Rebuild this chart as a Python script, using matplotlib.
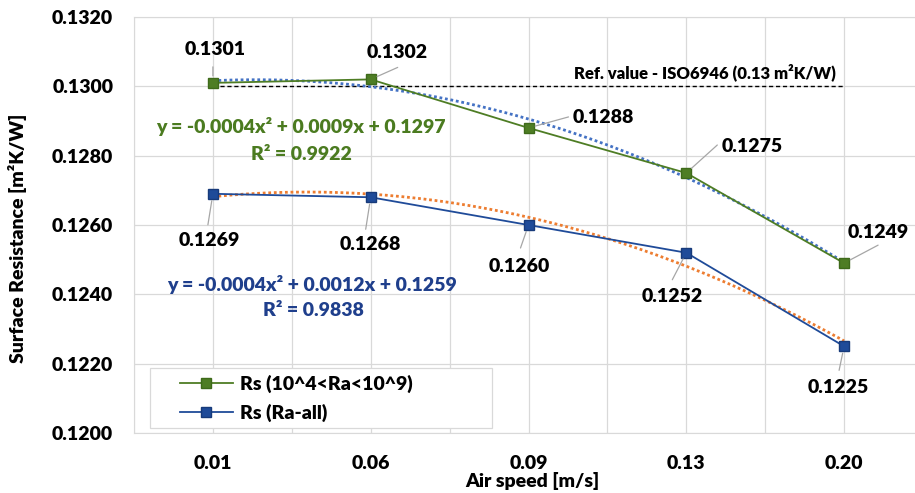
import numpy as np
import matplotlib
matplotlib.use("Agg")
import matplotlib.pyplot as plt
from matplotlib.patches import Rectangle
from matplotlib.lines import Line2D

plt.rcParams["font.family"] = ["Lato", "DejaVu Sans"]
plt.rcParams["font.weight"] = 800
plt.rcParams["axes.labelweight"] = 800

speeds = ["0.01", "0.06", "0.09", "0.13", "0.20"]
rs_ra_range = [0.1301, 0.1302, 0.1288, 0.1275, 0.1249]
rs_ra_all = [0.1269, 0.1268, 0.1260, 0.1252, 0.1225]
ref_value = 0.13

GREEN = "#4e7d24"
BLUE = "#1f4b99"
GRID = "#d9d9d9"
FW = 800

W, H = 915, 493
fig = plt.figure(figsize=(W / 100, H / 100), dpi=100)
L, R, T, B = 134, 923, 17, 433
ax = fig.add_axes([L / W, 1 - B / H, (R - L) / W, (B - T) / H])

x = np.arange(1, len(speeds) + 1)
ax.set_xlim(0.5, 5.5)
ax.set_ylim(0.12, 0.132)
ax.set_yticks(np.arange(0.12, 0.13201, 0.002))
ax.yaxis.set_major_formatter(matplotlib.ticker.FormatStrFormatter("%.4f"))
ax.set_xticks(x)
ax.set_xticklabels(speeds)
ax.set_xticks(np.arange(0.5, 5.51, 0.5), minor=True)
ax.tick_params(axis="both", which="both", length=0, labelsize=14)
ax.tick_params(axis="y", pad=15)
ax.tick_params(axis="x", pad=16)
for lab in ax.get_xticklabels() + ax.get_yticklabels():
    lab.set_fontweight(FW)
ax.grid(True, which="major", color=GRID, lw=0.9)
ax.grid(True, which="minor", axis="x", color=GRID, lw=0.9)
for s in ax.spines.values():
    s.set_color(GRID)
ax.set_axisbelow(True)

# trendlines (2nd order polynomial over category index)
xf = np.linspace(1, 5, 200)
pg = np.polyfit(x, rs_ra_range, 2)
pb = np.polyfit(x, rs_ra_all, 2)
ax.plot(xf, np.polyval(pg, xf), color="#4472c4", lw=2, ls=(0, (1, 1)), zorder=3)
ax.plot(xf, np.polyval(pb, xf), color="#ed7d31", lw=2, ls=(0, (1, 1)), zorder=3)

# reference line
ax.plot([1, 5], [ref_value, ref_value], color="black", lw=1, ls=(0, (3, 2)), zorder=2)
ax.annotate("Ref. value - ISO6946 (0.13 m²K/W)", xy=(5, ref_value), xytext=(-8, 14),
            textcoords="offset pixels", ha="right", va="center", fontsize=12, fontweight=FW)

ax.plot(x, rs_ra_range, color=GREEN, lw=1.3, marker="s", ms=7, mfc=GREEN,
        mec="#3e6a1a", zorder=4)
ax.plot(x, rs_ra_all, color=BLUE, lw=1.3, marker="s", ms=7, mfc=BLUE,
        mec="#173a7a", zorder=4)

# data labels: (text offset, leader start offset) in pixels
green_off = [((2, 33), (0, 16)), ((26, 27), (27, 12)), ((75, 10), (40, 11)),
             ((66, 26), (31, 28)), ((34, 31), (34, 18))]
blue_off = [((-4, -47), (-5, -31)), ((0, -47), (-5, -32)), ((-9, -41), (-8, -23)),
            ((-14, -44), (-14, -27)), ((-6, -41), (-5, -24))]
for vals, offs in ((rs_ra_range, green_off), (rs_ra_all, blue_off)):
    for xi, v, (toff, loff) in zip(x, vals, offs):
        ax.annotate(f"{v:.4f}", xy=(xi, v), xytext=toff, textcoords="offset pixels",
                    ha="center", va="center", fontsize=14, fontweight=FW, zorder=6)
        ax.annotate("", xy=(xi, v), xytext=loff, textcoords="offset pixels",
                    arrowprops=dict(arrowstyle="-", color="#a6a6a6", lw=0.9,
                                    shrinkA=0, shrinkB=5), zorder=5)

# trendline equations
fig.text(301 / W, 1 - 127 / H, "y = -0.0004x² + 0.0009x + 0.1297", color="#4b7b20",
         ha="center", va="center", fontsize=14, fontweight=FW)
fig.text(301 / W, 1 - 154 / H, "R² = 0.9922", color="#4b7b20",
         ha="center", va="center", fontsize=14, fontweight=FW)
fig.text(312 / W, 1 - 285 / H, "y = -0.0004x² + 0.0012x + 0.1259", color="#1f3f8c",
         ha="center", va="center", fontsize=14, fontweight=FW)
fig.text(313 / W, 1 - 311 / H, "R² = 0.9838", color="#1f3f8c",
         ha="center", va="center", fontsize=14, fontweight=FW)

# legend box
ax.add_patch(Rectangle(((150 - L) / (R - L), (B - 428) / (B - T)),
                       (492 - 150) / (R - L), 60 / (B - T), transform=ax.transAxes,
                       facecolor="white", edgecolor=GRID, lw=0.9, zorder=5))
handles = [Line2D([], [], color=GREEN, lw=1.3, marker="s", ms=7, mfc=GREEN, mec="#3e6a1a"),
           Line2D([], [], color=BLUE, lw=1.3, marker="s", ms=7, mfc=BLUE, mec="#173a7a")]
leg = ax.legend(handles, ["Rs (10^4<Ra<10^9)", "Rs (Ra-all)"], loc="center left",
                bbox_to_anchor=((180 - L) / (R - L), (B - 398) / (B - T)),
                frameon=False, prop={"size": 14, "weight": FW}, handlelength=2.7,
                handletextpad=0.4, labelspacing=0.55, borderaxespad=0, borderpad=0)
leg.set_zorder(6)

fig.text(18 / W, 1 - 238 / H, "Surface Resistance [m²K/W]", rotation=90,
         ha="center", va="center", fontsize=14, fontweight=FW)
fig.text(532 / W, 1 - 481 / H, "Air speed [m/s]", ha="center", va="center",
         fontsize=14, fontweight=FW)

fig.savefig("out.png", dpi=100)
